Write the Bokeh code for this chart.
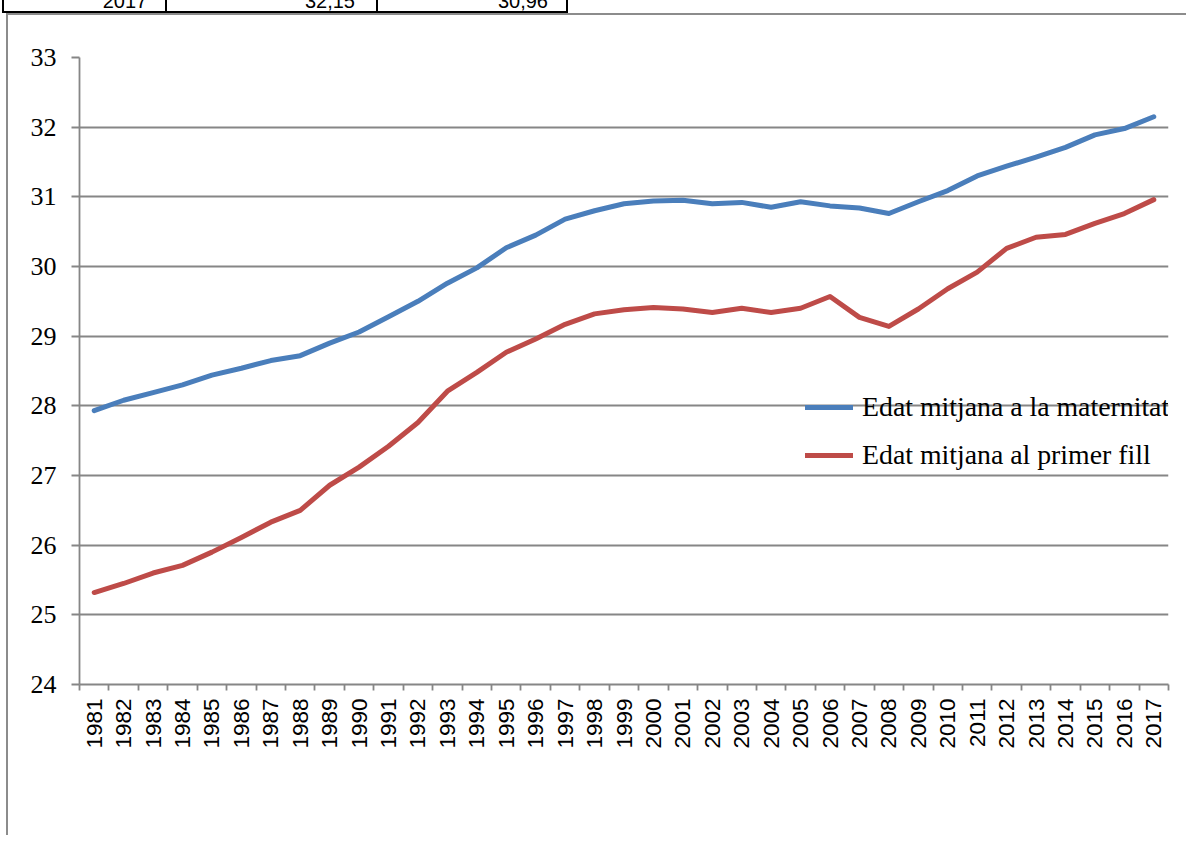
import math
from bokeh.plotting import figure
from bokeh.models import FixedTicker, Legend, LegendItem, Div
from bokeh.layouts import column, row
from bokeh.embed import file_html
from bokeh.resources import INLINE

years = list(range(1981, 2018))
edat_maternitat = [27.93, 28.08, 28.19, 28.30, 28.44, 28.54, 28.65, 28.72, 28.90, 29.06,
                   29.28, 29.50, 29.76, 29.98, 30.27, 30.45, 30.68, 30.80, 30.90, 30.94,
                   30.95, 30.90, 30.92, 30.85, 30.93, 30.87, 30.84, 30.76, 30.93, 31.09,
                   31.30, 31.44, 31.57, 31.71, 31.89, 31.98, 32.15]
edat_primer_fill = [25.32, 25.45, 25.60, 25.71, 25.90, 26.11, 26.33, 26.50, 26.86, 27.12,
                    27.42, 27.76, 28.21, 28.48, 28.77, 28.96, 29.17, 29.32, 29.38, 29.41,
                    29.39, 29.34, 29.40, 29.34, 29.40, 29.57, 29.27, 29.14, 29.39, 29.68,
                    29.92, 30.26, 30.42, 30.46, 30.62, 30.76, 30.96]
y_ticks = [24, 25, 26, 27, 28, 29, 30, 31, 32, 33]
series_names = ["Edat mitjana a la maternitat", "Edat mitjana al primer fill"]
table_row = ["2017", "32,15", "30,96"]

BLUE = "#4A7EBB"
RED = "#BE4B48"
GRID = "#868686"
BOX = "#8C8C8C"

TOTAL_W, TOTAL_H = 1186, 835
TOP_H, LEFT_W = 15, 8
FL, FR, FT, FB = 79, 1168, 57, 684   # plot frame edges in page pixels
W, H = TOTAL_W - LEFT_W, TOTAL_H - TOP_H

p = figure(width=W, height=H, output_backend="svg", toolbar_location=None,
           x_range=(years[0] - 0.5, years[-1] + 0.5), y_range=(y_ticks[0], y_ticks[-1]),
           min_border_left=FL - LEFT_W, min_border_right=TOTAL_W - FR,
           min_border_top=FT - TOP_H, min_border_bottom=TOTAL_H - FB, margin=0)
p.outline_line_color = None
p.background_fill_color = "white"
p.border_fill_color = "white"

r1 = p.line(years, edat_maternitat, line_color=BLUE, line_width=5,
            line_join="round", line_cap="round")
r2 = p.line(years, edat_primer_fill, line_color=RED, line_width=5,
            line_join="round", line_cap="round")

# x axis: labels at category centres, tick marks at category boundaries
xa = p.xaxis[0]
xa.ticker = FixedTicker(ticks=years,
                        minor_ticks=[y - 0.5 for y in years] + [years[-1] + 0.5])
xa.major_label_overrides = {y: str(y) for y in years}
xa.major_label_orientation = math.pi / 2
xa.major_tick_out = 0
xa.major_tick_in = 0
xa.minor_tick_out = 6
xa.minor_tick_in = 0
xa.minor_tick_line_color = GRID
xa.minor_tick_line_width = 1.8
xa.axis_line_color = GRID
xa.axis_line_width = 1.8
xa.major_label_standoff = 8
xa.major_label_text_font = "Liberation Sans"
xa.major_label_text_font_size = "22.5px"
xa.major_label_text_color = "black"

ya = p.yaxis[0]
ya.ticker = FixedTicker(ticks=y_ticks, minor_ticks=[])
ya.major_tick_out = 8
ya.major_tick_in = 0
ya.major_tick_line_color = GRID
ya.major_tick_line_width = 1.8
ya.axis_line_color = GRID
ya.axis_line_width = 1.8
ya.major_label_standoff = 15
ya.major_label_text_font = "Liberation Serif"
ya.major_label_text_font_size = "26px"
ya.major_label_text_color = "black"

p.xgrid.grid_line_color = None
p.ygrid.ticker = FixedTicker(ticks=y_ticks)
p.ygrid.grid_line_color = GRID
p.ygrid.grid_line_width = 1.8

legend = Legend(items=[LegendItem(label=series_names[0], renderers=[r1]),
                       LegendItem(label=series_names[1], renderers=[r2])],
                location=(726, 213), orientation="vertical",
                background_fill_alpha=0, border_line_color=None,
                padding=0, margin=0, spacing=16,
                glyph_width=48, glyph_height=20, label_standoff=9,
                label_text_font="Liberation Serif", label_text_font_size="27.8px",
                label_text_color="black")
p.add_layout(legend, "center")

# --- table fragment and the top edge of the chart box (HTML above the figure)
cells = [(3, 166), (166, 377), (377, 567)]
cell_html = "".join(
    f'<div style="position:absolute;left:{l - 1}px;top:-20px;width:{r - l + 2}px;'
    f'height:32.5px;border:2px solid #000;box-sizing:border-box;"></div>'
    for l, r in cells)
text_specs = [(table_row[0], 25, "center"), (table_row[1], 155, "right"),
              (table_row[2], 348, "right")]
text_html = "".join(
    f'<div style="position:absolute;left:{x}px;top:-9.4px;width:200px;'
    f'text-align:{a};white-space:nowrap;">{t}</div>'
    for t, x, a in text_specs)
top_html = (
    f'<div style="position:relative;width:{TOTAL_W}px;height:{TOP_H}px;overflow:hidden;'
    f'font-family:\'Liberation Sans\',Arial,sans-serif;font-size:20px;line-height:20px;'
    f'color:#000;background:#fff;">'
    + cell_html + text_html +
    f'<div style="position:absolute;left:6px;top:13px;width:{TOTAL_W}px;height:1.5px;'
    f'background:{BOX};"></div></div>')
top_div = Div(text=top_html, width=TOTAL_W, height=TOP_H, margin=0)

# --- left edge of the chart box
left_html = (
    f'<div style="position:relative;width:{LEFT_W}px;height:{H}px;overflow:hidden;'
    f'background:#fff;"><div style="position:absolute;left:6px;top:0;width:1.5px;'
    f'height:{H}px;background:{BOX};"></div></div>')
left_div = Div(text=left_html, width=LEFT_W, height=H, margin=0)

layout = column(top_div, row(left_div, p, spacing=0, margin=0), spacing=0, margin=0)

open("out.html", "w").write(file_html(layout, INLINE))
